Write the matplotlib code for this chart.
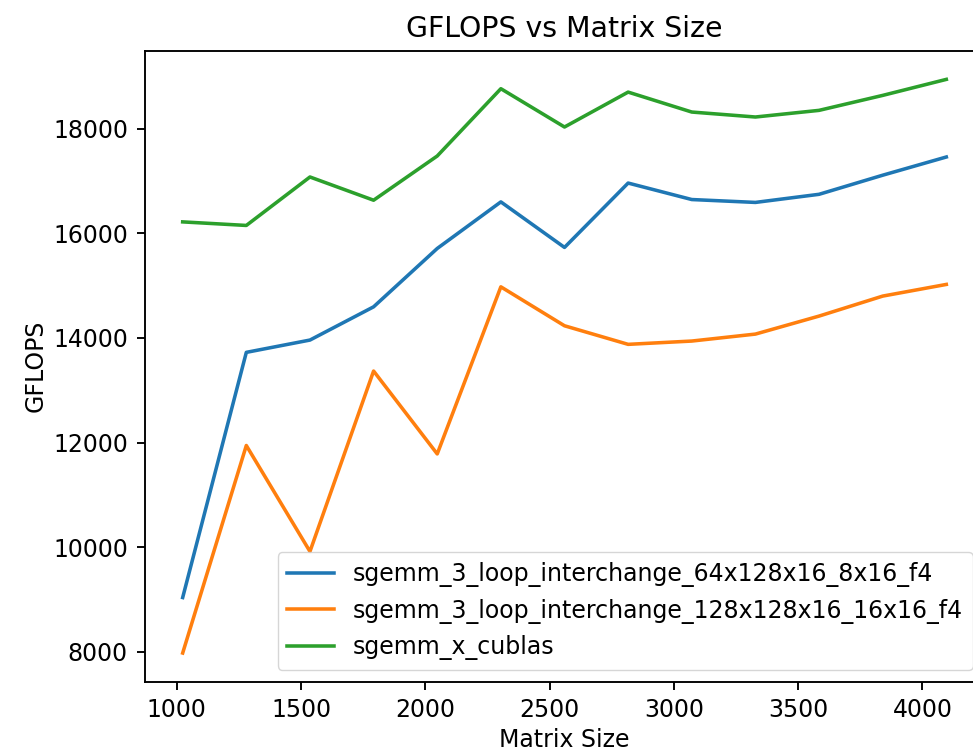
import matplotlib
matplotlib.use("Agg")
import matplotlib.pyplot as plt

# Matrix sizes and measured GFLOPS per kernel
sizes = [1024, 1280, 1536, 1792, 2048, 2304, 2560, 2816, 3072, 3328, 3584, 3840, 4096]
gflops_64x128 = [9040, 13725, 13960, 14595, 15710, 16600, 15730, 16960,
                 16645, 16590, 16745, 17110, 17458]
gflops_128x128 = [7980, 11945, 9920, 13368, 11784, 14977, 14233, 13878,
                  13941, 14074, 14418, 14800, 15023]
gflops_cublas = [16218, 16150, 17076, 16632, 17477, 18763, 18031, 18698,
                 18317, 18222, 18349, 18635, 18941]
labels = ["sgemm_3_loop_interchange_64x128x16_8x16_f4",
          "sgemm_3_loop_interchange_128x128x16_16x16_f4",
          "sgemm_x_cublas"]

scale = 1.7
plt.rcParams["font.size"] = 10 * scale
plt.rcParams["axes.linewidth"] = 0.8 * scale
plt.rcParams["xtick.major.size"] = 3.5 * scale
plt.rcParams["ytick.major.size"] = 3.5 * scale
plt.rcParams["xtick.major.width"] = 0.8 * scale
plt.rcParams["ytick.major.width"] = 0.8 * scale
plt.rcParams["xtick.major.pad"] = 3.5 * scale
plt.rcParams["ytick.major.pad"] = 3.5 * scale

fig = plt.figure(figsize=(9.73, 7.51), dpi=100)
ax = fig.add_axes([144.5 / 973, (751 - 681.7) / 751, 840 / 973, 631 / 751])

for series, label in zip([gflops_64x128, gflops_128x128, gflops_cublas], labels):
    ax.plot(sizes, series, label=label, linewidth=1.5 * scale)

ax.set_title("GFLOPS vs Matrix Size", fontsize=12 * scale, pad=6 * scale)
ax.set_xlabel("Matrix Size")
ax.set_ylabel("GFLOPS")
ax.legend(loc="lower right")

fig.savefig("out.png", dpi=100)
